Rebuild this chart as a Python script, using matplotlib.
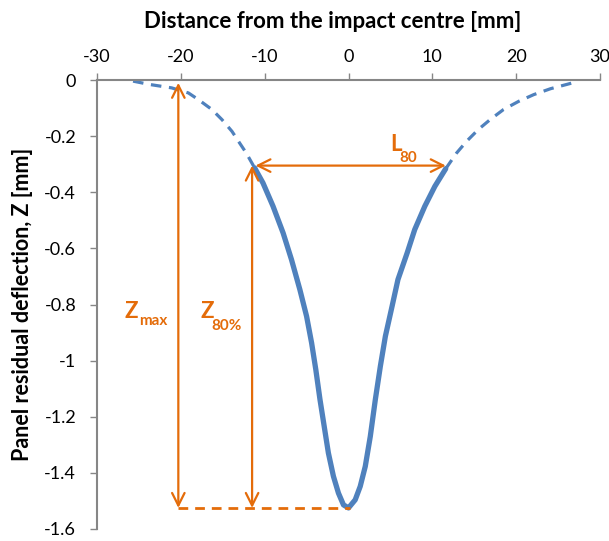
import matplotlib
matplotlib.use("Agg")
import matplotlib.pyplot as plt

plt.rcParams['font.family'] = ['Lato', 'DejaVu Sans']

# dent profile: measured points, mm
left_tail_x = [-25.7, -23.7, -21.1, -19.1, -17.9, -16.3, -15.1, -13.9, -13.0,
               -12.2, -11.2]
left_tail_z = [-0.004, -0.016, -0.028, -0.046, -0.070, -0.105, -0.141, -0.183,
               -0.224, -0.260, -0.313]

core_x = [-11.2, -10.2, -9.0, -7.8, -6.8, -5.8, -5.0, -4.4, -3.9, -3.4, -2.9,
          -2.4, -1.8, -1.2, -0.6, 0.0, 0.8, 1.4, 2.0, 2.6, 3.2, 3.8, 4.4, 5.2,
          5.9, 7.0, 7.9, 9.1, 10.3, 11.6]
core_z = [-0.313, -0.367, -0.450, -0.545, -0.640, -0.747, -0.842, -0.937,
          -1.032, -1.139, -1.234, -1.329, -1.412, -1.472, -1.514, -1.525,
          -1.496, -1.448, -1.377, -1.270, -1.139, -1.020, -0.913, -0.806,
          -0.711, -0.616, -0.533, -0.450, -0.379, -0.316]

right_tail_x = [11.6, 12.9, 14.1, 15.5, 16.9, 18.5, 20.3, 22.1, 24.1, 26.0, 27.0]
right_tail_z = [-0.316, -0.260, -0.218, -0.176, -0.141, -0.105, -0.076, -0.052,
                -0.031, -0.016, -0.008]

z_max = -1.525
z_80 = -0.305
x_max_arrow = -20.3
x_80_arrow = -11.5
l80_start, l80_end = -11.1, 11.6
x_min = 0.2

xticks = [-30, -20, -10, 0, 10, 20, 30]
yticks = [0, -0.2, -0.4, -0.6, -0.8, -1, -1.2, -1.4, -1.6]
ytick_labels = ['0', '-0.2', '-0.4', '-0.6', '-0.8', '-1', '-1.2', '-1.4', '-1.6']

blue = '#4f81bd'
orange = '#e46c0a'
grey = '#868686'

fig = plt.figure(figsize=(6.09, 5.41), dpi=100)
ax = fig.add_axes([0.1593, 0.0222, 0.8259, 0.8299])

ax.plot(left_tail_x, left_tail_z, color=blue, lw=2.3, dashes=(3.3, 2.4))
ax.plot(right_tail_x, right_tail_z, color=blue, lw=2.3, dashes=(3.3, 2.4))
ax.plot(core_x, core_z, color=blue, lw=3.8, solid_capstyle='round',
        solid_joinstyle='round')

arrow = dict(arrowstyle='<->,head_length=0.9,head_width=0.45', color=orange,
             lw=1.6, shrinkA=0, shrinkB=0)
ax.annotate('', xy=(x_max_arrow, -0.01), xytext=(x_max_arrow, z_max),
            arrowprops=arrow)
ax.annotate('', xy=(x_80_arrow, z_80), xytext=(x_80_arrow, z_max),
            arrowprops=arrow)
ax.annotate('', xy=(l80_start, z_80), xytext=(l80_end, z_80),
            arrowprops=arrow)
ax.plot([x_max_arrow, x_min], [z_max, z_max], color=orange, lw=2,
        dashes=(3.5, 2.5))

# symbols with subscripts
ax.text(-26.7, -0.825, 'Z', color=orange, fontsize=16, fontweight='bold',
        ha='left', va='center')
ax.text(-25.0, -0.86, 'max', color=orange, fontsize=11, fontweight='bold',
        ha='left', va='center')
ax.text(-17.7, -0.825, 'Z', color=orange, fontsize=16, fontweight='bold',
        ha='left', va='center')
ax.text(-16.3, -0.875, '80%', color=orange, fontsize=11, fontweight='bold',
        ha='left', va='center')
ax.text(5.0, -0.23, 'L', color=orange, fontsize=16, fontweight='bold',
        ha='left', va='center')
ax.text(6.1, -0.277, '80', color=orange, fontsize=11, fontweight='bold',
        ha='left', va='center')

ax.set_xlim(-30, 30)
ax.set_ylim(-1.6, 0)
ax.xaxis.tick_top()
ax.xaxis.set_label_position('top')
ax.set_xticks(xticks)
ax.set_xticklabels([str(v) for v in xticks])
ax.set_yticks(yticks)
ax.set_yticklabels(ytick_labels)
ax.tick_params(axis='both', colors=grey, labelcolor='black', labelsize=13,
               length=5, width=1)
ax.tick_params(axis='x', pad=6)
ax.tick_params(axis='y', pad=10)

for side in ('bottom', 'right'):
    ax.spines[side].set_visible(False)
for side in ('top', 'left'):
    ax.spines[side].set_color(grey)
    ax.spines[side].set_linewidth(1.5)

ax.set_xlabel('Distance from the impact centre [mm]', fontsize=16,
              fontweight='bold', labelpad=15)
ax.xaxis.label.set_x(0.469)
ax.set_ylabel('Panel residual deflection, Z [mm]', fontsize=15.5,
              fontweight='bold', labelpad=8)

fig.savefig('out.png', dpi=100)
